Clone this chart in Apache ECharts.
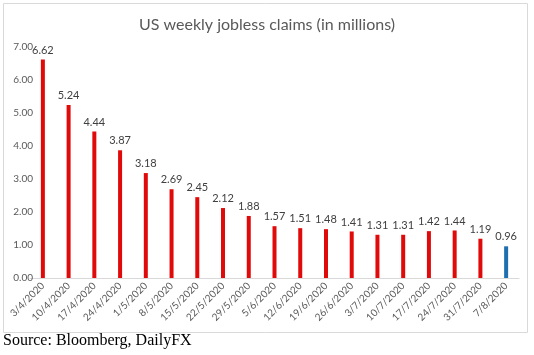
<!DOCTYPE html>
<html><head><meta charset="utf-8">
<script src="https://cdn.jsdelivr.net/npm/echarts@6/dist/echarts.min.js"></script>
<style>html,body{margin:0;padding:0;background:#fff}#c{width:534px;height:355px}</style>
</head><body><div id="c"></div>
<script>
const categories = ['3/4/2020','10/4/2020','17/4/2020','24/4/2020','1/5/2020','8/5/2020','15/5/2020','22/5/2020','29/5/2020','5/6/2020','12/6/2020','19/6/2020','26/6/2020','3/7/2020','10/7/2020','17/7/2020','24/7/2020','31/7/2020','7/8/2020'];
const claims = [6.62,5.24,4.44,3.87,3.18,2.69,2.45,2.12,1.88,1.57,1.51,1.48,1.41,1.31,1.31,1.42,1.44,1.19,0.96];
const yTicks = [0,1,2,3,4,5,6,7];

const chart = echarts.init(document.getElementById('c'), null, {renderer:'canvas'});
const last = claims.length - 1;
chart.setOption({
  animation:false,
  title:{text:'US weekly jobless claims (in millions)', left:'center', top:12,
    textStyle:{fontFamily:'Lato', fontSize:16, fontWeight:'normal', color:'#595959'}},
  graphic:[
    {type:'rect', shape:{x:3.5,y:3.5,width:524,height:329}, style:{fill:'none', stroke:'#d9d9d9', lineWidth:1}, z:-1},
    {type:'text', left:3, top:333, style:{text:'Source: Bloomberg, DailyFX', font:'16px "Liberation Serif"', fill:'#000'}}
  ],
  grid:{left:30, right:15, top:47, bottom:77},
  xAxis:{type:'category', data:categories,
    axisLine:{lineStyle:{color:'#d9d9d9'}}, axisTick:{show:false},
    axisLabel:{rotate:45, interval:0, margin:6, fontSize:10, fontFamily:'Lato', color:'#595959'}},
  yAxis:{type:'value', min:yTicks[0], max:yTicks[yTicks.length-1], interval:1,
    splitLine:{show:false}, axisLine:{show:false}, axisTick:{show:false},
    axisLabel:{formatter:v=>v.toFixed(2), fontSize:10, fontFamily:'Lato', color:'#595959', margin:-3}},
  series:[{type:'bar', barWidth:4,
    data:claims.map((v,i)=>({value:v, itemStyle:{color: i===last ? '#1f6fb0' : '#e00a0a'}})),
    label:{show:true, position:'top', distance:4, fontSize:11, fontFamily:'Lato', color:'#404040', formatter:p=>p.value.toFixed(2)}
  }]
});
</script></body></html>
